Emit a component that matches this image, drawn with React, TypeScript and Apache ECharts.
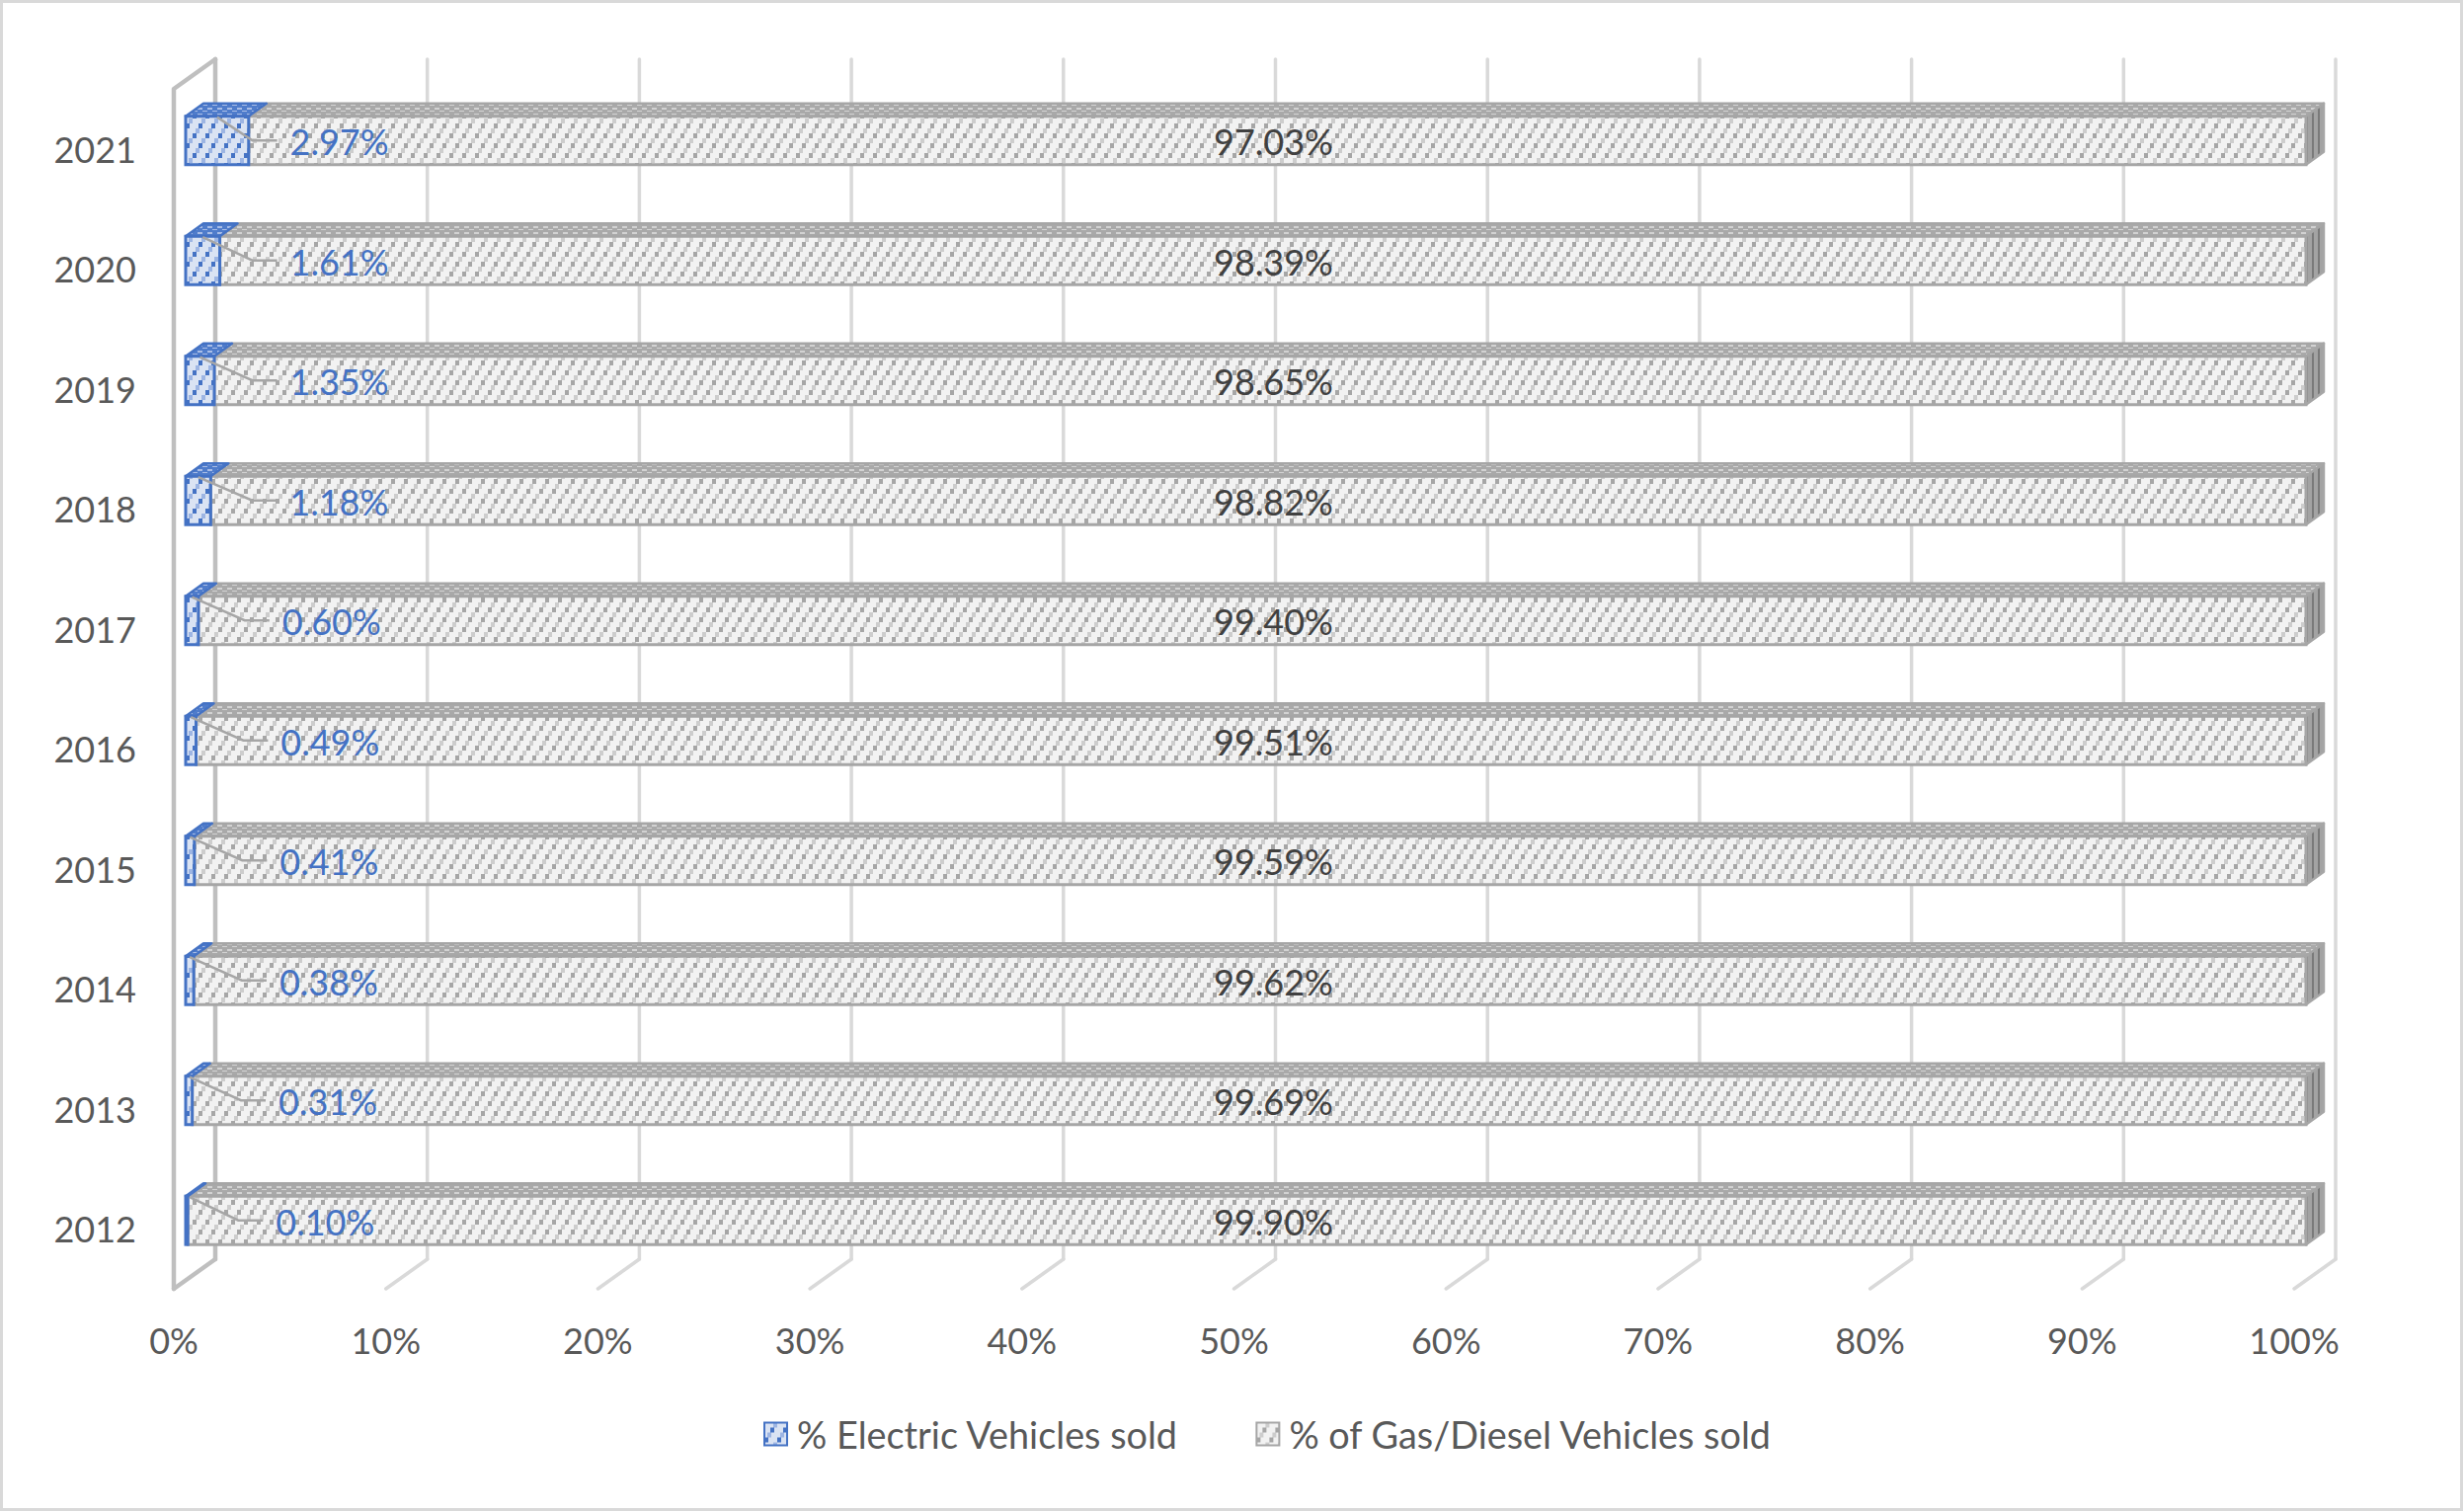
import React, { useEffect, useRef } from "react";
import * as echarts from "echarts";

const years = ["2012", "2013", "2014", "2015", "2016", "2017", "2018", "2019", "2020", "2021"];
const electricPct = [0.1, 0.31, 0.38, 0.41, 0.49, 0.6, 1.18, 1.35, 1.61, 2.97];
const gasPct = [99.9, 99.69, 99.62, 99.59, 99.51, 99.4, 98.82, 98.65, 98.39, 97.03];
const xTicks = [0, 10, 20, 30, 40, 50, 60, 70, 80, 90, 100];
const seriesNames = ["% Electric Vehicles sold", "% of Gas/Diesel Vehicles sold"];

const FONT = "Lato, 'Open Sans', sans-serif";
// 3D look (pixels)
const WALL_DX = 42;
const WALL_DY = -30;
const FRONT_DX = 12;
const FRONT_DY = -8.6;
const DEPTH_DX = 18;
const DEPTH_DY = -13;
const BAR_H = 49;

function makePattern(w: number, h: number, bg: string, draw: (ctx: CanvasRenderingContext2D) => void) {
  const c = document.createElement("canvas");
  c.width = w;
  c.height = h;
  const ctx = c.getContext("2d")!;
  ctx.fillStyle = bg;
  ctx.fillRect(0, 0, w, h);
  draw(ctx);
  return { image: c, repeat: "repeat", imageWidth: w, imageHeight: h } as any;
}

function stripePattern(bg: string, dark: string, mid: string) {
  return makePattern(13, 20, bg, (ctx) => {
    const blocks = [
      [0, 15],
      [3, 10],
      [6, 5],
      [9, 0],
    ];
    blocks.forEach((b, i) => {
      ctx.fillStyle = i % 2 === 0 ? dark : mid;
      ctx.fillRect(b[0], b[1], 4, 5);
    });
  });
}

function topPattern(bg: string, light: string) {
  return makePattern(10, 6, bg, (ctx) => {
    ctx.fillStyle = light;
    ctx.fillRect(0, 1, 5, 2);
    ctx.fillRect(5, 4, 5, 1);
  });
}

function sidePattern(bg: string, dark: string) {
  return makePattern(6, 12, bg, (ctx) => {
    ctx.fillStyle = dark;
    ctx.fillRect(1, 0, 2, 12);
  });
}

export default function App() {
  const ref = useRef<HTMLDivElement>(null);

  useEffect(() => {
    document.body.style.margin = "0";
    document.body.style.overflow = "hidden";
    if (!ref.current) return;
    const chart = echarts.init(ref.current, null, { renderer: "svg" });

    const gasFront = stripePattern("#f2f2f2", "#a6a6a6", "#cdcdcd");
    const elecFront = stripePattern("#dae3f3", "#4472c4", "#9db5e3");
    const gasTop = topPattern("#a9a9a9", "#d2d2d2");
    const elecTop = topPattern("#4f7ccb", "#a9bde6");
    const gasSide = sidePattern("#a3a3a3", "#7a7a7a");

    const makeBar = (
      front: any,
      top: any,
      side: any,
      stroke: string,
      kind: "elec" | "gas"
    ) =>
      (params: any, api: any) => {
        const start = api.value(0);
        const end = api.value(1);
        const cat = api.value(2);
        const p0 = api.coord([start, cat]);
        const p1 = api.coord([end, cat]);
        const pz = api.coord([0, cat]);
        const pm = api.coord([50, cat]);
        const x0 = p0[0] + FRONT_DX;
        const x1 = p1[0] + FRONT_DX;
        const yc = p0[1] + FRONT_DY;
        const yt = yc - BAR_H / 2;
        const yb = yc + BAR_H / 2;
        const children: any[] = [
          {
            type: "polygon",
            shape: {
              points: [
                [x0, yt],
                [x1, yt],
                [x1 + DEPTH_DX, yt + DEPTH_DY],
                [x0 + DEPTH_DX, yt + DEPTH_DY],
              ],
            },
            style: { fill: top, stroke, lineWidth: 2.5, lineJoin: "round" },
          },
        ];
        if (side) {
          children.push({
            type: "polygon",
            shape: {
              points: [
                [x1, yt],
                [x1 + DEPTH_DX, yt + DEPTH_DY],
                [x1 + DEPTH_DX, yb + DEPTH_DY],
                [x1, yb],
              ],
            },
            style: { fill: side, stroke, lineWidth: 2.5, lineJoin: "round" },
          });
        }
        children.push({
          type: "rect",
          shape: { x: x0, y: yt, width: Math.max(x1 - x0, 0.5), height: BAR_H },
          style: { fill: front, stroke, lineWidth: 3 },
        });
        const val = end - start;
        if (kind === "elec") {
          const labelLeft = pz[0] + FRONT_DX + 90 + Math.min(val, 1.2) * 13;
          children.push({
            type: "polyline",
            shape: {
              points: [
                [Math.max((x0 + x1) / 2, x0 + 4), yt + 1],
                [labelLeft - 38, yc],
                [labelLeft - 13, yc],
              ],
            },
            style: { stroke: "#a6a6a6", lineWidth: 2.5, fill: null },
          });
          children.push({
            type: "text",
            style: {
              text: val.toFixed(2) + "%",
              x: labelLeft,
              y: yc + 1,
              align: "left",
              verticalAlign: "middle",
              fill: "#4472c4",
              fontSize: 36,
              fontFamily: FONT,
            },
          });
        } else {
          children.push({
            type: "text",
            style: {
              text: val.toFixed(2) + "%",
              x: pm[0] + FRONT_DX + 28,
              y: yc + 1,
              align: "center",
              verticalAlign: "middle",
              fill: "#404040",
              fontSize: 36,
              fontFamily: FONT,
            },
          });
        }
        return { type: "group", children };
      };

    const wallRender = (params: any, api: any) => {
      const v = api.value(0);
      const cs = params.coordSys;
      const x = api.coord([v, 0])[0];
      const topY = cs.y;
      const botY = cs.y + cs.height;
      const isZero = v === xTicks[0];
      const col = isZero ? "#bfbfbf" : "#d9d9d9";
      const lw = isZero ? 4.5 : 3.5;
      const children: any[] = [
        {
          type: "line",
          shape: { x1: x + WALL_DX, y1: topY + WALL_DY, x2: x + WALL_DX, y2: botY + WALL_DY },
          style: { stroke: col, lineWidth: lw, lineCap: "round" },
        },
        {
          type: "line",
          shape: { x1: x + WALL_DX, y1: botY + WALL_DY, x2: x, y2: botY },
          style: { stroke: col, lineWidth: lw, lineCap: "round" },
        },
      ];
      if (isZero) {
        children.push({
          type: "polyline",
          shape: {
            points: [
              [x + WALL_DX, topY + WALL_DY],
              [x, topY],
              [x, botY],
            ],
          },
          style: { stroke: col, lineWidth: lw, lineCap: "round", lineJoin: "round", fill: null },
        });
      }
      return { type: "group", children };
    };

    const option: any = {
      animation: false,
      backgroundColor: "#ffffff",
      graphic: [
        {
          type: "rect",
          shape: { x: 1.5, y: 1.5, width: 2491, height: 1527 },
          style: { fill: null, stroke: "#d9d9d9", lineWidth: 3 },
          silent: true,
        },
      ],
      grid: { left: 176, top: 90, width: 2147, height: 1215 },
      xAxis: {
        type: "value",
        min: 0,
        max: 100,
        interval: 10,
        axisLine: { show: false },
        axisTick: { show: false },
        splitLine: { show: false },
        axisLabel: {
          formatter: "{value}%",
          margin: 34,
          fontSize: 36,
          color: "#595959",
          fontFamily: FONT,
        },
      },
      yAxis: {
        type: "category",
        data: years,
        axisLine: { show: false },
        axisTick: { show: false },
        splitLine: { show: false },
        axisLabel: {
          margin: 38,
          fontSize: 36,
          color: "#595959",
          fontFamily: FONT,
          padding: [6, 0, 0, 0],
        },
      },
      legend: {
        data: [
          {
            name: seriesNames[0],
            icon: "rect",
            itemStyle: { color: elecFront, borderColor: "#4472c4", borderWidth: 2 },
          },
          {
            name: seriesNames[1],
            icon: "rect",
            itemStyle: { color: gasFront, borderColor: "#a6a6a6", borderWidth: 2 },
          },
        ],
        left: 773,
        top: 1433,
        padding: 0,
        itemWidth: 23,
        itemHeight: 23,
        itemGap: 78,
        selectedMode: false,
        textStyle: { fontSize: 37.8, color: "#595959", fontFamily: FONT, padding: [0, 0, 0, 5] },
      },
      series: [
        {
          type: "custom",
          name: "walls",
          silent: true,
          renderItem: wallRender,
          data: xTicks.map((v) => [v, 0]),
          encode: { x: 0, y: 1 },
          z: 1,
        },
        {
          type: "custom",
          name: seriesNames[0],
          renderItem: makeBar(elecFront, elecTop, null, "#4472c4", "elec"),
          data: electricPct.map((v, i) => [0, v, i]),
          encode: { x: [0, 1], y: 2 },
          itemStyle: { color: "#4472c4" },
          z: 3,
        },
        {
          type: "custom",
          name: seriesNames[1],
          renderItem: makeBar(gasFront, gasTop, gasSide, "#a6a6a6", "gas"),
          data: gasPct.map((v, i) => [electricPct[i], electricPct[i] + v, i]),
          encode: { x: [0, 1], y: 2 },
          itemStyle: { color: "#a6a6a6" },
          z: 2,
        },
      ],
    };
    chart.setOption(option);
    return () => chart.dispose();
  }, []);

  return <div ref={ref} style={{ width: 2495, height: 1531 }} />;
}
